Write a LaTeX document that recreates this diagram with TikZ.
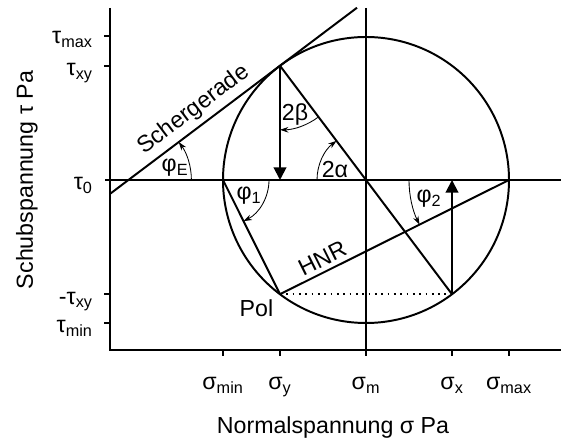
\documentclass[tikz,border=0pt]{standalone}
\usepackage{fontspec}
\setmainfont{Liberation Sans}
\usetikzlibrary{arrows.meta}

\begin{document}
\begin{tikzpicture}[
    >=Stealth,
    axisline/.style={line width=1.6pt},
    mline/.style={line width=1.4pt},
    dotline/.style={line width=1.3pt, dash pattern=on 1.3pt off 3.2pt},
    anglearc/.style={line width=0.6pt, -{Stealth[length=6pt, width=4pt]}},
    stressarrow/.style={line width=1.4pt, -{Triangle[length=9pt, width=9pt]}},
    lbl/.style={font=\fontsize{16.5}{19}\selectfont, inner sep=0pt},
    ticklbl/.style={lbl, anchor=base east},
    sigmalbl/.style={lbl, anchor=base}
]

% Rahmen
\useasboundingbox (-2.75,-2.225) rectangle (11.275,8.75);

% Punkte am Mohrschen Kreis
\coordinate (M)    at (6.4,4.25);
\coordinate (Y)    at (4.25,7.105);
\coordinate (X)    at (8.55,1.395);
\coordinate (P)    at (4.25,1.395);
\coordinate (Smin) at (2.825,4.25);
\coordinate (Smax) at (9.975,4.25);
\coordinate (Yb)   at (4.25,4.25);
\coordinate (Xb)   at (8.55,4.25);
\coordinate (E)    at (0.46,4.25);
\coordinate (Sa)   at (0,3.903);
\coordinate (Sb)   at (6.175,8.557);

% Achsen
\draw[axisline] (0,8.55) -- (0,0) -- (11.275,0);
\draw[mline] (-0.125,4.25) -- (11.275,4.25);
\draw[mline] (6.4,8.55) -- (6.4,0);

% Teilstriche tau
\draw[axisline] (-0.15,7.85)  -- (0,7.85);
\draw[axisline] (-0.15,7.105) -- (0,7.105);
\draw[axisline] (-0.15,1.395) -- (0,1.395);
\draw[axisline] (-0.15,0.675) -- (0,0.675);

% Teilstriche sigma
\draw[axisline] (2.825,0) -- (2.825,-0.15);
\draw[axisline] (4.25,0)  -- (4.25,-0.15);
\draw[axisline] (6.4,0)   -- (6.4,-0.15);
\draw[axisline] (8.55,0)  -- (8.55,-0.15);
\draw[axisline] (9.975,0) -- (9.975,-0.15);

% Kreis
\draw[mline] (M) circle[radius=3.575];

% Schergerade
\draw[mline] (Sa) -- node[lbl, sloped, above, pos=0.38, inner sep=3.5pt] {Schergerade} (Sb);

% Durchmesser, Spannungen, Pol
\draw[mline] (Y) -- (X);
\draw[stressarrow] (Y) -- (Yb);
\draw[stressarrow] (X) -- (Xb);
\draw[mline] (P) -- (Smin);
\draw[mline] (P) -- node[lbl, sloped, above, pos=0.21, inner sep=3pt] {HNR} (Smax);
\draw[dotline] (P) -- (X);

% Winkel
\draw[anglearc] ([shift={(0:1.575)}]E) arc[start angle=0, end angle=37, radius=1.575];
\draw[anglearc] ([shift={(-53:1.6)}]Y) arc[start angle=-53, end angle=-90, radius=1.6];
\draw[anglearc] ([shift={(180:1.225)}]M) arc[start angle=180, end angle=127, radius=1.225];
\draw[anglearc] ([shift={(0:1.15)}]Smin) arc[start angle=0, end angle=-63.5, radius=1.15];
\draw[anglearc] ([shift={(180:2.5)}]Smax) arc[start angle=180, end angle=206.5, radius=2.5];

% Winkelbeschriftung
\node[lbl] (phiE)  at (1.625,4.55) {φ\textsubscript{E}};
\node[lbl] (beta)  at (4.625,5.875) {2β};
\node[lbl] (alpha) at (5.625,4.5)  {2α};
\node[lbl] (phi1)  at (3.475,3.85) {φ\textsubscript{1}};
\node[lbl] (phi2)  at (7.975,3.775) {φ\textsubscript{2}};
\node[lbl] (pol)   at (3.66,1.04)  {Pol};

% Beschriftung tau
\node[ticklbl] (tmax) at (-0.425,7.65)  {τ\textsubscript{max}};
\node[ticklbl] (txy)  at (-0.425,6.855) {τ\textsubscript{xy}};
\node[ticklbl] (t0)   at (-0.425,4.0)   {τ\textsubscript{0}};
\node[ticklbl] (mtxy) at (-0.425,1.145) {-τ\textsubscript{xy}};
\node[ticklbl] (tmin) at (-0.425,0.425) {τ\textsubscript{min}};

% Beschriftung sigma
\node[sigmalbl] (smin) at (2.825,-1.0) {σ\textsubscript{min}};
\node[sigmalbl] (sy)   at (4.25,-1.0)  {σ\textsubscript{y}};
\node[sigmalbl] (sm)   at (6.4,-1.0)   {σ\textsubscript{m}};
\node[sigmalbl] (sx)   at (8.55,-1.0)  {σ\textsubscript{x}};
\node[sigmalbl] (smax) at (9.975,-1.0) {σ\textsubscript{max}};

% Achsentitel
\node[lbl, anchor=base] (xtitle) at (5.575,-2.1) {Normalspannung σ Pa};
\node[lbl, anchor=base, rotate=90] (ytitle) at (-1.925,4.25) {Schubspannung τ Pa};

\end{tikzpicture}
\end{document}
